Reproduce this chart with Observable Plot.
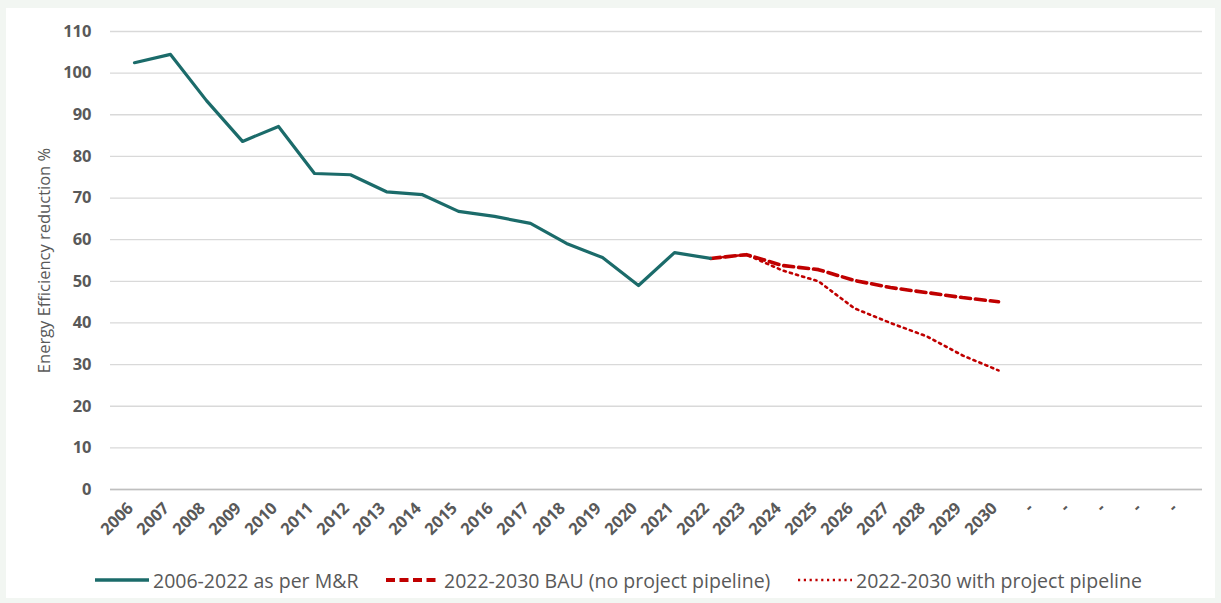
<!DOCTYPE html>
<html>
<head>
<meta charset="utf-8">
<script src="https://cdn.jsdelivr.net/npm/d3@7"></script>
<script src="https://cdn.jsdelivr.net/npm/@observablehq/plot@0.6"></script>
<style>
  html, body { margin: 0; padding: 0; }
  body { width: 1221px; height: 603px; background: #f2f6f2; overflow: hidden; font-family: "Open Sans", Lato, sans-serif; }
  #wrap { position: relative; width: 1221px; height: 603px; }
  #panel { position: absolute; left: 6px; top: 8px; width: 1209px; height: 590px; background: #ffffff; }
  #chart { position: absolute; left: 0; top: 0; }
  #legend { position: absolute; left: 0; top: 566px; width: 1221px; height: 28px; font-size: 19.5px; color: #595959; }
  .item { position: absolute; top: 0; height: 28px; display: flex; align-items: center; white-space: nowrap; }
  .item svg { margin-right: 4px; }
</style>
</head>
<body>
<div id="wrap">
  <div id="panel"></div>
  <div id="chart"></div>
  <div id="legend"></div>
</div>
<script>
// ---- data ----
const categories = ["2006","2007","2008","2009","2010","2011","2012","2013","2014","2015","2016","2017","2018","2019","2020","2021","2022","2023","2024","2025","2026","2027","2028","2029","2030","b1","b2","b3","b4","b5"];
const tickLabels = ["2006","2007","2008","2009","2010","2011","2012","2013","2014","2015","2016","2017","2018","2019","2020","2021","2022","2023","2024","2025","2026","2027","2028","2029","2030","-","-","-","-","-"];
const actualYears = ["2006","2007","2008","2009","2010","2011","2012","2013","2014","2015","2016","2017","2018","2019","2020","2021","2022"];
const actualValues = [102.5, 104.5, 93.4, 83.6, 87.2, 75.9, 75.6, 71.5, 70.8, 66.8, 65.6, 63.9, 59.1, 55.7, 49.0, 56.9, 55.5];
const forecastYears = ["2022","2023","2024","2025","2026","2027","2028","2029","2030"];
const bauValues = [55.5, 56.4, 53.8, 52.8, 50.2, 48.5, 47.3, 46.1, 45.1];
const pipelineValues = [55.5, 56.4, 52.6, 50.0, 43.5, 40.0, 36.8, 32.2, 28.6];
const yTicks = [0,10,20,30,40,50,60,70,80,90,100,110];
const seriesNames = ["2006-2022 as per M&R", "2022-2030 BAU (no project pipeline)", "2022-2030 with project pipeline"];
const yTitle = "Energy Efficiency reduction %";

// ---- tables ----
const actual = actualYears.map((x, i) => ({x, y: actualValues[i]}));
const bau = forecastYears.map((x, i) => ({x, y: bauValues[i]}));
const pipeline = forecastYears.map((x, i) => ({x, y: pipelineValues[i]}));
const labelOf = new Map(categories.map((c, i) => [c, tickLabels[i]]));

const teal = "#1b6b6a";
const red = "#c00000";

const chart = Plot.plot({
  width: 1221,
  height: 560,
  marginLeft: 110,
  marginRight: 19,
  marginTop: 31,
  marginBottom: 71,
  style: {background: "transparent", fontFamily: "'Open Sans', Lato, sans-serif", color: "#595959"},
  x: {type: "point", domain: categories, padding: 0.5},
  y: {domain: [0, 110]},
  marks: [
    Plot.ruleY(yTicks, {stroke: "#d9d9d9", strokeWidth: 1.3}),
    Plot.ruleY([0], {stroke: "#bfbfbf", strokeWidth: 1.3}),
    Plot.ruleX([0], {x: () => null, frameAnchor: "left", y1: 0, y2: 110, stroke: "#d0d0d0"}),
    Plot.axisY({ticks: yTicks, tickSize: 0, tickPadding: 19, label: null, fontSize: 16.5, fontWeight: "bold", fill: "#595959"}),
    Plot.axisX({tickSize: 0, tickRotate: -45, tickPadding: 16, dx: -4, label: null, fontSize: 16.5, fontWeight: "bold", fill: "#595959", tickFormat: d => labelOf.get(d)}),
    Plot.text([yTitle], {frameAnchor: "left", textAnchor: "middle", rotate: -90, dx: -66, fontSize: 16.5, fill: "#595959", text: d => d}),
    Plot.line(pipeline, {x: "x", y: "y", stroke: red, strokeWidth: 2.6, strokeDasharray: "2.2,4.2"}),
    Plot.line(bau, {x: "x", y: "y", stroke: red, strokeWidth: 3.6, strokeDasharray: "10,5"}),
    Plot.line(actual, {x: "x", y: "y", stroke: teal, strokeWidth: 3.2})
  ]
});
document.getElementById("chart").appendChild(chart);

// ---- legend ----
const legend = document.getElementById("legend");
const lefts = [95, 386, 798];
const styles = [
  {stroke: teal, w: 3.6, dash: null},
  {stroke: red, w: 3.8, dash: "9,4.5"},
  {stroke: red, w: 2.6, dash: "2.2,3.6"}
];
seriesNames.forEach((name, i) => {
  const it = document.createElement("div");
  it.className = "item";
  it.style.left = lefts[i] + "px";
  const s = styles[i];
  it.innerHTML = `<svg width="54" height="10"><line x1="0" x2="54" y1="5" y2="5" stroke="${s.stroke}" stroke-width="${s.w}" ${s.dash ? `stroke-dasharray="${s.dash}"` : ""}/></svg><span>${name}</span>`;
  legend.appendChild(it);
});
</script>
</body>
</html>
